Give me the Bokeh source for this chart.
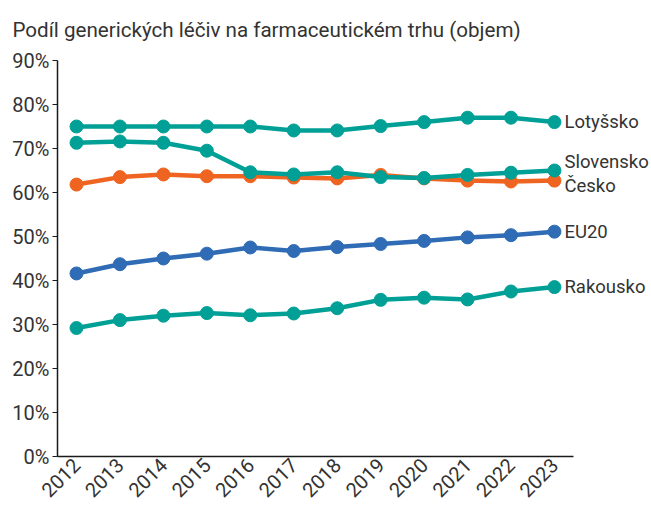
from bokeh.plotting import figure
from bokeh.models import ColumnDataSource, PrintfTickFormatter, FixedTicker
from bokeh.core.properties import value
from bokeh.embed import file_html
from bokeh.resources import INLINE
import math

years = [2012, 2013, 2014, 2015, 2016, 2017, 2018, 2019, 2020, 2021, 2022, 2023]
lotyssko = [75.0, 75.0, 75.0, 75.0, 75.0, 74.1, 74.1, 75.1, 76.0, 77.0, 77.0, 76.0]
slovensko = [71.3, 71.6, 71.3, 69.5, 64.6, 64.1, 64.6, 63.5, 63.3, 64.0, 64.5, 65.0]
cesko = [61.8, 63.5, 64.1, 63.7, 63.7, 63.4, 63.2, 64.0, 63.2, 62.7, 62.5, 62.7]
eu20 = [41.6, 43.7, 45.0, 46.1, 47.5, 46.7, 47.6, 48.3, 49.0, 49.8, 50.3, 51.1]
rakousko = [29.2, 31.0, 32.0, 32.6, 32.1, 32.5, 33.7, 35.6, 36.1, 35.7, 37.5, 38.5]
y_ticks = [0, 10, 20, 30, 40, 50, 60, 70, 80, 90]
title_text = "Podíl generických léčiv na farmaceutickém trhu (objem)"

TEAL = "#00A096"
ORANGE = "#EF6420"
BLUE = "#2F6CB5"
TXT = "#333333"
FONT = "Roboto"

series = [
    ("Česko", cesko, ORANGE, 5),
    ("Slovensko", slovensko, TEAL, -9),
    ("Lotyšsko", lotyssko, TEAL, 0),
    ("EU20", eu20, BLUE, 0),
    ("Rakousko", rakousko, TEAL, 0),
]

px_per_year = 43.45
x0 = 2012 - 19 / px_per_year
W, H = 651, 508
ml, mt, mb = 57, 60, 52
x1 = x0 + (W - ml) / px_per_year

p = figure(width=W, height=H, output_backend="svg", toolbar_location=None,
           x_range=(x0, x1), y_range=(0, 90), title=title_text,
           min_border_left=ml, min_border_right=0, min_border_top=mt, min_border_bottom=mb)
p.title.text_font = FONT
p.title.text_font_size = "20.6px"
p.title.text_font_style = "normal"
p.title.text_color = TXT
p.title.align = "left"
p.title.vertical_align = "top"
p.title.offset = -45
p.title.standoff = 34

p.grid.visible = False
p.outline_line_color = None
p.background_fill_color = "white"
p.border_fill_color = "white"

p.xaxis.ticker = FixedTicker(ticks=years)
p.xaxis.bounds = (x0, 2023 + 19 / px_per_year)
p.xaxis.major_label_orientation = math.pi / 4
p.xaxis.major_tick_out = 0
p.xaxis.major_tick_in = 0
p.xaxis.minor_tick_out = 0
p.xaxis.minor_tick_in = 0
p.xaxis.major_label_standoff = 5

p.yaxis.ticker = FixedTicker(ticks=y_ticks)
p.yaxis.formatter = PrintfTickFormatter(format="%d%%")
p.yaxis.major_tick_out = 5
p.yaxis.major_tick_in = 0
p.yaxis.minor_tick_out = 0
p.yaxis.minor_tick_in = 0
p.yaxis.major_label_standoff = 3

for ax in (p.xaxis, p.yaxis):
    ax.axis_line_color = "#1a1a1a"
    ax.axis_line_width = 1.5
    ax.major_tick_line_color = "#1a1a1a"
    ax.major_label_text_font = FONT
    ax.major_label_text_font_size = "20px"
    ax.major_label_text_color = TXT

for name, vals, color, yoff in series:
    src = ColumnDataSource(dict(x=years, y=vals))
    p.line("x", "y", source=src, line_color=color, line_width=4.5)
    p.scatter("x", "y", source=src, size=13, fill_color=color, line_color=color)
    lab = ColumnDataSource(dict(x=[years[-1]], y=[vals[-1]], t=[name]))
    p.text("x", "y", text="t", source=lab, x_offset=10, y_offset=yoff,
           text_font=value(FONT), text_font_size="18.5px", text_color=TXT,
           text_baseline="middle", text_align="left")

open("out.html", "w").write(file_html(p, INLINE))
